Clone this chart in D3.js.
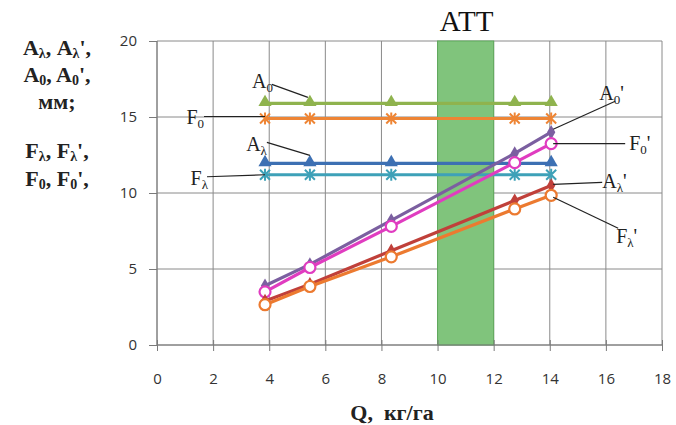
<!DOCTYPE html>
<html><head><meta charset="utf-8">
<script src="https://cdn.jsdelivr.net/npm/d3@7"></script>
<style>body{margin:0;background:#fff}</style></head>
<body><svg id="c" width="676" height="425"></svg>
<script>
// ---- data ----
const Q = [3.85, 5.45, 8.35, 12.75, 14.05];
const A0 = [15.9, 15.9, 15.9, 15.9, 15.9];
const F0 = [14.9, 14.9, 14.9, 14.9, 14.9];
const Al = [11.95, 11.95, 11.95, 11.95, 11.95];
const Fl = [11.2, 11.2, 11.2, 11.2, 11.2];
const A0p = [3.9, 5.3, 8.2, 12.6, 14.0];
const F0p = [3.5, 5.1, 7.8, 12.0, 13.25];
const Alp = [2.9, 4.0, 6.2, 9.5, 10.5];
const Flp = [2.65, 3.85, 5.8, 8.95, 9.85];
const xTicks = [0, 2, 4, 6, 8, 10, 12, 14, 16, 18];
const yTicks = [0, 5, 10, 15, 20];
const band = [10, 12];
const bandLabel = "АТТ";
const xTitle = "Q,  кг/га";

const SERIF = "'Liberation Serif', 'Times New Roman', serif";
const svg = d3.select("#c");
const x = d3.scaleLinear().domain([0, 18]).range([157, 662]);
const y = d3.scaleLinear().domain([0, 20]).range([345, 41]);

// grid
const g = svg.append("g");
g.selectAll(".vg").data(xTicks).join("line")
  .attr("x1", d => x(d)).attr("x2", d => x(d)).attr("y1", y(0)).attr("y2", y(20))
  .attr("stroke", "#8a8a8a").attr("stroke-width", 1);
g.selectAll(".hg").data(yTicks).join("line")
  .attr("x1", x(0)).attr("x2", x(18)).attr("y1", d => y(d)).attr("y2", d => y(d))
  .attr("stroke", "#8a8a8a").attr("stroke-width", 1);

// band
svg.append("rect").attr("x", x(band[0])).attr("width", x(band[1]) - x(band[0]))
  .attr("y", y(20)).attr("height", y(0) - y(20))
  .attr("fill", "#80c47c").attr("stroke", "#5fa95c").attr("stroke-width", 1);

// axes
const xAxis = d3.axisBottom(x).tickValues(xTicks).tickSize(6).tickPadding(22).tickFormat(d3.format("d"));
const gx = svg.append("g").attr("transform", `translate(0,${y(0)})`).call(xAxis);
gx.selectAll("line").attr("stroke", "#7a7a7a").attr("y1", -5);
gx.select(".domain").attr("stroke", "#7a7a7a").attr("d", `M${x(0)},0H${x(18)}`);
gx.selectAll("text").attr("font-family", "'Open Sans', sans-serif").attr("font-size", 15).attr("fill", "#333");

const yAxis = d3.axisLeft(y).tickValues(yTicks).tickSize(8).tickPadding(12);
const gy = svg.append("g").attr("transform", `translate(${x(0)},0)`).call(yAxis);
gy.selectAll("line").attr("stroke", "#7a7a7a");
gy.select(".domain").attr("stroke", "#7a7a7a").attr("d", `M0,${y(0)}V${y(20)}`);
gy.selectAll("text").attr("font-family", "'Open Sans', sans-serif").attr("font-size", 15).attr("fill", "#333");

// series
const series = [
  {v: A0, c: "#8fb34e", m: "tri"},
  {v: F0, c: "#ee8535", m: "star"},
  {v: Al, c: "#3d70b3", m: "tri"},
  {v: Fl, c: "#3ea1b8", m: "star"},
  {v: A0p, c: "#7b5fa0", m: "dia"},
  {v: F0p, c: "#e03cc0", m: "circ"},
  {v: Alp, c: "#c0403a", m: "dia"},
  {v: Flp, c: "#ec7a30", m: "circ"}
];
const line = d3.line().x((d, i) => x(Q[i])).y(d => y(d));
series.forEach(s => {
  svg.append("path").attr("d", line(s.v)).attr("fill", "none").attr("stroke", s.c).attr("stroke-width", 3.2);
  const mg = svg.append("g");
  s.v.forEach((d, i) => {
    const cx = x(Q[i]), cy = y(d);
    if (s.m === "tri") {
      mg.append("path").attr("d", d3.symbol(d3.symbolTriangle, 75)()).attr("transform", `translate(${cx},${cy - 1})`).attr("fill", s.c);
    } else if (s.m === "star") {
      mg.append("path").attr("d", "M-5,-5L5,5M-5,5L5,-5M0,-6V6").attr("transform", `translate(${cx},${cy})`)
        .attr("stroke", s.c).attr("stroke-width", 2).attr("fill", "none");
    } else if (s.m === "dia") {
      mg.append("path").attr("d", d3.symbol(d3.symbolDiamond, 60)()).attr("transform", `translate(${cx},${cy})`).attr("fill", s.c);
    } else {
      mg.append("circle").attr("cx", cx).attr("cy", cy).attr("r", 5.5).attr("fill", "#fff").attr("stroke", s.c).attr("stroke-width", 2.2);
    }
  });
});

// rich text helper
function rich(sel, parts, big, small, off) {
  let sub = false;
  parts.forEach(p => {
    const t = sel.append("tspan").text(p[0]);
    if (p[1] && !sub) { t.attr("dy", off).attr("font-size", small); sub = true; }
    else if (p[1]) { t.attr("font-size", small); }
    else if (!p[1] && sub) { t.attr("dy", -off).attr("font-size", big); sub = false; }
    else t.attr("font-size", big);
  });
}

// series labels with leader lines
const labels = [
  {v: A0, i: 1, parts: [["A"], ["0", 1]], l: [-38, -19, -2, -6], t: [-37, -15], a: "end"},
  {v: F0, i: 0, parts: [["F"], ["0", 1]], l: [-61, -2, 0, -2], t: [-61, 5], a: "end"},
  {v: Al, i: 1, parts: [["A"], ["λ", 1]], l: [-43, -21, 0, -8], t: [-43, -12], a: "end"},
  {v: Fl, i: 0, parts: [["F"], ["λ", 1]], l: [-58, 2, 0, 0], t: [-57, 10], a: "end"},
  {v: A0p, i: 4, parts: [["A"], ["0", 1], ["'"]], l: [2, -3, 64, -31], t: [48, -32], a: "start"},
  {v: F0p, i: 4, parts: [["F"], ["0", 1], ["'"]], l: [2, 0, 74, 0], t: [78, 6], a: "start"},
  {v: Alp, i: 4, parts: [["A"], ["λ", 1], ["'"]], l: [2, -1, 51, -3], t: [51, 3], a: "start"},
  {v: Flp, i: 4, parts: [["F"], ["λ", 1], ["'"]], l: [2, 2, 67, 33], t: [65, 48], a: "start"}
];
labels.forEach(L => {
  const px = x(Q[L.i]), py = y(L.v[L.i]);
  svg.append("line").attr("x1", px + L.l[0]).attr("y1", py + L.l[1]).attr("x2", px + L.l[2]).attr("y2", py + L.l[3])
    .attr("stroke", "#222").attr("stroke-width", 1.2);
  const t = svg.append("text").attr("x", px + L.t[0]).attr("y", py + L.t[1]).attr("text-anchor", L.a)
    .attr("font-family", SERIF).attr("fill", "#222");
  rich(t, L.parts, 20, 13, 4);
});

// band label
svg.append("text").attr("x", (x(band[0]) + x(band[1])) / 2 + 1).attr("y", 31).attr("text-anchor", "middle")
  .attr("font-family", SERIF).attr("font-size", 29).attr("fill", "#111").text(bandLabel);

// x title
svg.append("text").attr("x", 392).attr("y", 420).attr("text-anchor", "middle")
  .attr("font-family", SERIF).attr("font-weight", "bold").attr("font-size", 22).attr("fill", "#222")
  .attr("xml:space", "preserve").style("white-space", "pre").text(xTitle);

// y title
const yLines = [
  {y: 55, parts: [["A"], ["λ", 1], [", A"], ["λ", 1], ["',"]]},
  {y: 82, parts: [["A"], ["0", 1], [", A"], ["0", 1], ["',"]]},
  {y: 109, parts: [["мм;"]]},
  {y: 158, parts: [["F"], ["λ", 1], [", F"], ["λ", 1], ["',"]]},
  {y: 186, parts: [["F"], ["0", 1], [", F"], ["0", 1], ["',"]]}
];
yLines.forEach(L => {
  const t = svg.append("text").attr("x", 57).attr("y", L.y).attr("text-anchor", "middle")
    .attr("font-family", SERIF).attr("font-weight", "bold").attr("fill", "#222");
  rich(t, L.parts, 22, 14, 3);
});
</script>
</body></html>
